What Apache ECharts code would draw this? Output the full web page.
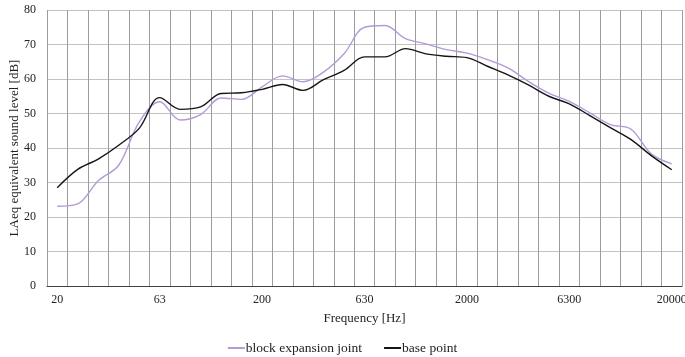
<!DOCTYPE html>
<html>
<head>
<meta charset="utf-8">
<title>LAeq spectrum</title>
<script src="https://cdn.jsdelivr.net/npm/echarts@6/dist/echarts.min.js"></script>
<style>
  html, body { margin: 0; padding: 0; background: #fff; }
  #chart { width: 685px; height: 357px; }
</style>
</head>
<body>
<div id="chart"></div>
<script>
// One-third octave band centre frequencies [Hz]
var bands = ['20','25','31.5','40','50','63','80','100','125','160','200','250','315','400','500','630','800','1000','1250','1600','2000','2500','3150','4000','5000','6300','8000','10000','12500','16000','20000'];

// LAeq per band [dB]
var blockExpansionJoint = [23.1, 23.8, 30.5, 35.0, 47.5, 53.4, 48.1, 49.7, 54.5, 54.1, 57.7, 60.9, 59.2, 62.0, 67.3, 75.0, 75.5, 71.7, 70.2, 68.5, 67.5, 65.6, 63.2, 59.3, 55.9, 53.5, 50.2, 46.8, 45.5, 38.3, 35.4];
var basePoint = [28.5, 33.8, 36.8, 40.8, 45.7, 54.6, 51.2, 51.9, 55.8, 56.0, 57.0, 58.4, 56.7, 59.8, 62.5, 66.4, 66.4, 68.8, 67.3, 66.6, 66.2, 63.7, 61.2, 58.3, 55.0, 52.8, 49.4, 45.9, 42.5, 37.8, 33.7];

var serif = '"Liberation Serif", "Times New Roman", serif';

var chart = echarts.init(document.getElementById('chart'), null, { renderer: 'canvas' });
chart.setOption({
  animation: false,
  backgroundColor: '#ffffff',
  textStyle: { fontFamily: serif },
  grid: { left: 47, right: 3, top: 10, bottom: 71, containLabel: false, outerBoundsMode: 'none' },
  legend: {
    top: 336,
    left: 'center',
    itemGap: 22,
    itemWidth: 17,
    itemHeight: 2,
    icon: 'rect',
    textStyle: { fontFamily: serif, fontSize: 13.5, color: '#222', padding: [0, 0, 0, -4] },
    data: ['block expansion joint', 'base point']
  },
  xAxis: {
    type: 'category',
    data: bands,
    boundaryGap: true,
    name: 'Frequency [Hz]',
    nameLocation: 'middle',
    nameGap: 26,
    nameTextStyle: { fontFamily: serif, fontSize: 13, color: '#222' },
    axisLine: { show: true, lineStyle: { color: '#404040', width: 1.2 } },
    axisTick: { show: false },
    axisLabel: { interval: 4, margin: 8, fontFamily: serif, fontSize: 12, color: '#222' },
    splitLine: { show: true, interval: 0, lineStyle: { color: '#9c9c9c', width: 1 } }
  },
  yAxis: {
    type: 'value',
    min: 0,
    max: 80,
    interval: 10,
    name: 'LAeq equivalent sound level [dB]',
    nameLocation: 'middle',
    nameGap: 26,
    nameMoveOverlap: false,
    nameTextStyle: { fontFamily: serif, fontSize: 13, color: '#222' },
    axisLine: { show: false },
    axisTick: { show: false },
    axisLabel: { margin: 11, fontFamily: serif, fontSize: 12, color: '#222' },
    splitLine: { show: true, lineStyle: { color: '#c2c2c2', width: 1.2 } }
  },
  series: [
    {
      name: 'block expansion joint',
      type: 'line',
      data: blockExpansionJoint,
      smooth: 0.35,
      symbol: 'none',
      itemStyle: { color: '#b39ad8' },
      lineStyle: { color: '#b39ad8', width: 1.4 },
      z: 3
    },
    {
      name: 'base point',
      type: 'line',
      data: basePoint,
      smooth: 0.35,
      symbol: 'none',
      itemStyle: { color: '#151515' },
      lineStyle: { color: '#151515', width: 1.4 },
      z: 4
    }
  ]
});
</script>
</body>
</html>
